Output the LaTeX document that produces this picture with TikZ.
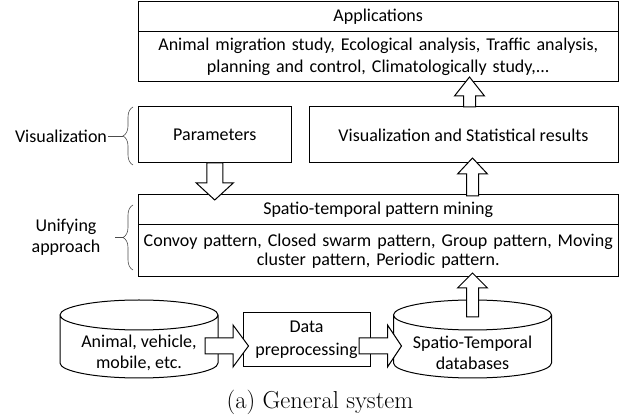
\documentclass[tikz,border=0pt]{standalone}
\usepackage{fontspec}
\newfontfamily\calib{Carlito}
\usetikzlibrary{positioning,calc,decorations.pathreplacing}
\tikzset{
  hdbox/.style={draw,line width=1pt,inner sep=0pt,outer sep=0pt,minimum height=30pt,
                minimum width=479.5pt,align=center},
  bdbox/.style={draw,line width=1pt,inner sep=0pt,outer sep=0pt,text width=479.5pt,align=center},
  panel/.style={draw,line width=1pt,inner sep=0pt,outer sep=0pt,minimum height=56pt,align=center},
  drum/.style={inner sep=0pt,outer sep=0pt,minimum width=158pt,minimum height=78pt},
  txt/.style={inner sep=0pt,align=center},
  fat/.style={draw,line width=1pt,fill=white,line join=miter},
  brc/.style={decorate,decoration={brace,amplitude=10pt},line width=0.6pt,black!70},
  side/.style={inner sep=1pt,align=center},
}
% cylinder outline round a drum node
\newcommand{\drumoutline}[1]{%
  \draw[line width=1pt] ([yshift=-15pt]#1.north west) -- ([yshift=15pt]#1.south west)
    arc[start angle=180,end angle=360,x radius=79pt,y radius=15pt]
    -- ([yshift=-15pt]#1.north east)
    arc[start angle=0,end angle=360,x radius=79pt,y radius=15pt];}
% block arrow: from, to, shaft half width, head half width, head length
\newcommand{\fatarrow}[5]{%
  \coordinate (fhb) at ($(#2)!#5!(#1)$);
  \draw[fat] ($(#1)!#3!90:(#2)$) -- ($(fhb)!#3!90:(#2)$) -- ($(fhb)!#4!90:(#2)$) -- (#2)
    -- ($(fhb)!#4!-90:(#2)$) -- ($(fhb)!#3!-90:(#2)$) -- ($(#1)!#3!-90:(#2)$) -- cycle;}

\begin{document}
\begin{tikzpicture}[x=1pt,y=-1pt,font=\calib\fontsize{18}{22}\selectfont]
  \useasboundingbox (0,0) rectangle (619,419);
  % applications
  \node[hdbox,anchor=north west] (apphead) at (138.5,2) {Applications};
  \node[bdbox,minimum height=50pt,anchor=north] (appbody) at (apphead.south)
    {Animal migration study, Ecological analysis, Traffic analysis,\\planning and control, Climatologically study,...};
  % visualization
  \node[panel,minimum width=152.5pt,anchor=north west] (params) at (138.5,107) {Parameters};
  \node[panel,minimum width=309pt,right=18pt of params] (visres) {Visualization and Statistical results};
  % mining
  \node[hdbox,anchor=north west] (minhead) at (138.5,195) {Spatio-temporal pattern mining};
  \node[bdbox,minimum height=52pt,anchor=north,font=\calib\fontsize{18}{18.5}\selectfont] (minbody) at (minhead.south)
    {Convoy pattern, Closed swarm pattern, Group pattern, Moving\\cluster pattern, Periodic pattern.};
  % data
  \node[drum] (ldb) at (139,339) {};
  \drumoutline{ldb}
  \node[txt,font=\calib\fontsize{18}{21}\selectfont] (ldbtxt) at ($(ldb.center)+(0,13.5)$) {Animal, vehicle,\\mobile, etc.};
  \node[panel,minimum width=127pt,minimum height=54pt,font=\calib\fontsize{18}{23}\selectfont] (prep) at (306.5,340) {Data\\preprocessing};
  \node[drum] (rdb) at (472.5,339) {};
  \drumoutline{rdb}
  \node[txt,font=\calib\fontsize{18}{21}\selectfont] (rdbtxt) at ($(rdb.center)+(0,13.5)$) {Spatio-Temporal\\databases};
  % braces
  \node[side] (vislbl) at (61,136) {Visualization};
  \draw[brc] (133,165) -- (133,107);
  \coordinate (vistip) at (123,136);
  \draw[line width=0.6pt,black!70] (vislbl.east) -- (vistip);
  \node[side,font=\calib\fontsize{18}{21}\selectfont] (unilbl) at (66,237.5) {Unifying\\approach};
  \draw[brc] (133,270) -- (133,205);
  \coordinate (unitip) at (123,237.5);
  \draw[line width=0.6pt,black!70] ($(unitip)+(-8,0)$) -- (unitip);
  % block arrows
  \coordinate (d1) at (params.south);
  \coordinate (d2) at ($(d1 |- minhead.north)+(0,5)$);
  \fatarrow{d1}{d2}{8pt}{18.5pt}{17pt}
  \coordinate (u1) at ($(rdb.north)+(0,17)$);
  \coordinate (u2) at ($(u1 |- minbody.south)+(0,-4)$);
  \fatarrow{u1}{u2}{6pt}{15pt}{15pt}
  \coordinate (u3) at ($(u1 |- minhead.north)+(0,1)$);
  \coordinate (u4) at ($(u3 |- visres.south)+(0,-5)$);
  \fatarrow{u3}{u4}{6pt}{15pt}{16pt}
  \coordinate (u5) at ($(u1 |- visres.north)+(-3,0)$);
  \coordinate (u6) at ($(u5 |- appbody.south)+(0,-5)$);
  \fatarrow{u5}{u6}{6pt}{15pt}{19pt}
  \coordinate (h1) at ($(ldb.east)+(-13,7)$);
  \coordinate (h2) at ($(h1 -| prep.west)+(5.5,0)$);
  \fatarrow{h1}{h2}{8pt}{21pt}{15.5pt}
  \coordinate (h3) at ($(h1 -| prep.east)+(-11,0)$);
  \coordinate (h4) at ($(h1 -| rdb.west)+(8,0)$);
  \fatarrow{h3}{h4}{8pt}{21pt}{14pt}
  % caption
  \node[inner sep=0pt,font=\rmfamily\fontsize{24.5}{30}\selectfont] (caption) at (320,402) {(a) General system};
\end{tikzpicture}
\end{document}
